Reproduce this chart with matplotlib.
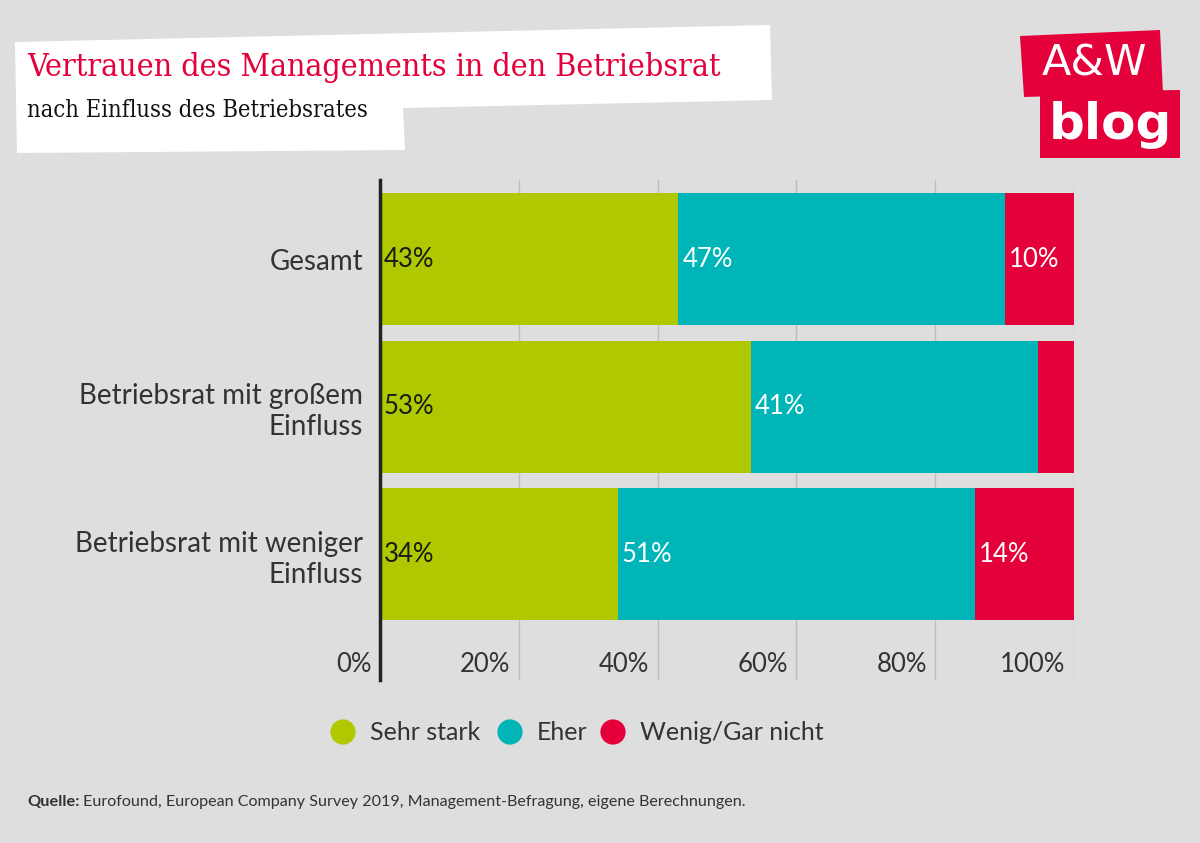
import matplotlib.pyplot as plt
from matplotlib.patches import Polygon
import numpy as np

plt.rcParams['font.family'] = ['Lato', 'DejaVu Sans']

categories = ["Gesamt", "Betriebsrat mit großem\nEinfluss", "Betriebsrat mit weniger\nEinfluss"]
series = ["Sehr stark", "Eher", "Wenig/Gar nicht"]
sehr_stark = [43.0, 53.4, 34.3]
eher = [47.0, 41.4, 51.4]
wenig = [10.0, 5.2, 14.3]
show_label = [[True, True, True], [True, True, False], [True, True, True]]
xticks = [0, 20, 40, 60, 80, 100]

colors = ["#afc800", "#00b5b8", "#e4003a"]
text_colors = ["#1a1a1a", "white", "white"]
bg = "#dedede"

fig = plt.figure(figsize=(12, 8.43), dpi=100)
fig.patch.set_facecolor(bg)

W, H = 1200, 843
def fx(x): return x / W
def fy(y): return 1 - y / H

# white title box (slightly skewed) and logo boxes
box = [(15, 42), (770, 25), (772, 100), (403, 108), (405, 150), (17, 153)]
logo1 = [(1020, 36), (1160, 30), (1163, 93), (1024, 97)]
logo2 = [(1040, 92), (1180, 90), (1180, 158), (1040, 158)]
fig.patches.append(Polygon([(fx(x), fy(yy)) for x, yy in box], closed=True,
                           transform=fig.transFigure, facecolor="white", edgecolor="none"))
for pts in (logo1, logo2):
    fig.patches.append(Polygon([(fx(x), fy(yy)) for x, yy in pts], closed=True,
                               transform=fig.transFigure, facecolor="#e4003a", edgecolor="none"))

fig.text(fx(27), fy(76), "Vertrauen des Managements in den Betriebsrat", color="#e4003a",
         fontsize=23, family="DejaVu Serif", fontstretch="condensed", va="baseline")
fig.text(fx(27), fy(117), "nach Einfluss des Betriebsrates", color="#111111",
         fontsize=17, family="DejaVu Serif", fontstretch="condensed", va="baseline")

fig.text(fx(1094), fy(63), "A&W", color="white", fontsize=31, ha="center", va="center",
         family="DejaVu Sans")
fig.text(fx(1110), fy(125), "blog", color="white", fontsize=36, fontweight="bold",
         ha="center", va="center", family="DejaVu Sans")

# main plot
ax = fig.add_axes([fx(380), fy(680), fx(1074) - fx(380), (680 - 180) / H])
ax.set_facecolor(bg)
y = np.arange(len(categories))
data = [sehr_stark, eher, wenig]
left = np.zeros(len(categories))
for i, vals in enumerate(data):
    ax.barh(y, vals, left=left, height=0.895, color=colors[i], zorder=2)
    for j, v in enumerate(vals):
        if show_label[j][i]:
            ax.text(left[j] + 0.55, y[j], f"{round(v)}%", color=text_colors[i],
                    fontsize=18.5, va="center", ha="left", zorder=3)
    left += np.array(vals)

ax.set_xlim(0, 100)
ax.set_ylim(2.854, -0.536)
ax.set_xticks([])
ax.set_yticks(y)
ax.set_yticklabels(categories, fontsize=20, color="#333333", ha="right", linespacing=1.25)
ax.tick_params(axis="y", length=0, pad=12)
for lbl in ax.get_yticklabels():
    lbl.set_multialignment("right")
for t in xticks[1:]:
    ax.axvline(t, color="#bdbdbd", lw=1, zorder=1)
for t in xticks:
    ax.text(t - 1.2, 0.015, f"{t}%", transform=ax.get_xaxis_transform(), ha="right",
            va="baseline", fontsize=18.5, color="#333333")
for s in ["top", "right", "bottom"]:
    ax.spines[s].set_visible(False)
ax.spines["left"].set_linewidth(2.5)
ax.spines["left"].set_color("#222222")
ax.spines["left"].set_zorder(4)

# legend
lx = [343, 510, 613]
lax = fig.add_axes([0, 0, 1, 1], facecolor="none")
lax.set_xlim(0, W)
lax.set_ylim(H, 0)
lax.axis("off")
for i, name in enumerate(series):
    lax.scatter([lx[i]], [732], s=330, color=colors[i], marker="o", edgecolors="none")
    lax.text(lx[i] + 27, 733, name, fontsize=18, color="#333333", va="center", ha="left")

fig.text(fx(27), fy(806), "Quelle:", fontsize=11.8, fontweight="bold", color="#333333")
fig.text(fx(83), fy(806), "Eurofound, European Company Survey 2019, Management-Befragung, eigene Berechnungen.",
         fontsize=11.6, color="#333333")

fig.savefig("out.png", dpi=100, facecolor=bg)
